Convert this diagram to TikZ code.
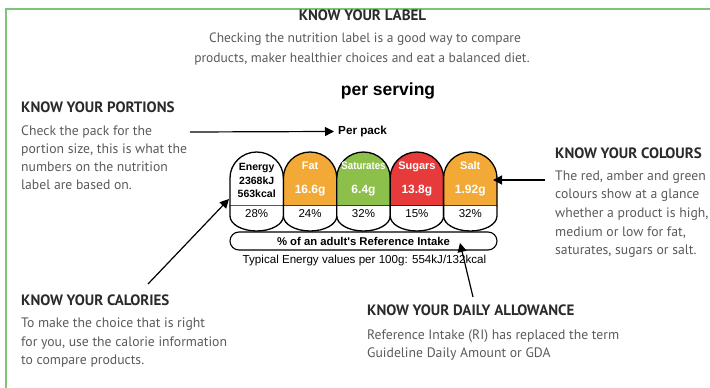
\documentclass[tikz,border=0pt]{standalone}
\usepackage{fontspec}
\setmainfont{PT Sans}
\newfontfamily\arialf{Liberation Sans}
\usetikzlibrary{arrows.meta}
\definecolor{framegreen}{HTML}{7CC576}
\definecolor{bodygrey}{HTML}{5A5A5A}
\definecolor{headgrey}{HTML}{2A2A2A}
\definecolor{amber}{HTML}{F3A935}
\definecolor{lgreen}{HTML}{8CC04A}
\definecolor{lred}{HTML}{E63A3B}
\begin{document}
\begin{tikzpicture}[x=1pt,y=-1pt,
  headtxt/.style={anchor=mid west, inner sep=0pt, text=headgrey, font=\fontsize{15}{17}\selectfont\bfseries},
  bodytxt/.style={anchor=mid west, inner sep=0pt, text=bodygrey, font=\fontsize{13.7}{15}\selectfont},
  ctrtxt/.style={anchor=mid, inner sep=0pt, text=bodygrey, font=\fontsize{13.5}{15}\selectfont},
  labtxt/.style={anchor=mid, inner sep=0pt, font=\arialf\bfseries\fontsize{11}{12}\selectfont},
  entxt/.style={anchor=mid, inner sep=0pt, font=\arialf\bfseries\fontsize{10.5}{12}\selectfont},
  valtxt/.style={anchor=mid, inner sep=0pt, text=white, font=\arialf\bfseries\fontsize{12}{13}\selectfont},
  pcttxt/.style={anchor=mid, inner sep=0pt, font=\arialf\fontsize{11.5}{12}\selectfont},
  pillline/.style={line width=1.3pt, draw=black},
  arr/.style={line width=1.2pt, -{Triangle[length=9pt,width=9pt]}}
]
\useasboundingbox (0,0) rectangle (710,388);
% frame
\draw[framegreen, line width=2pt] (6,388) -- (6,9) -- (710,9);

% top
\node[headtxt, anchor=mid] (klabel) at (362.5,18) {KNOW YOUR LABEL};
\node[ctrtxt] (t1) at (365,40) {Checking the nutrition label is a good way to compare};
\node[ctrtxt] (t2) at (362,60) {products, maker healthier choices and eat a balanced diet.};
\node[anchor=mid, inner sep=0pt, font=\arialf\bfseries\fontsize{17.5}{19}\selectfont] (perserv) at (388,93) {per serving};

% portions
\node[headtxt] (hp) at (21,110) {KNOW YOUR PORTIONS};
\node[bodytxt] (p1) at (21,133) {Check the pack for the};
\node[bodytxt] (p2) at (21,151) {portion size, this is what the};
\node[bodytxt] (p3) at (21,169) {numbers on the nutrition};
\node[bodytxt] (p4) at (21,187) {label are based on.};

\node[anchor=mid west, inner sep=0pt, font=\arialf\bfseries\fontsize{11.7}{13}\selectfont] (perpack) at (338,132) {Per pack};
\coordinate (pa) at (190,132);
\draw[arr, shorten >=4pt] (pa) -- (perpack.west);

% colours
\node[headtxt] (hc) at (555,156) {KNOW YOUR COLOURS};
\node[bodytxt] (c1) at (555,177.5) {The red, amber and green};
\node[bodytxt] (c2) at (555,196) {colours show at a glance};
\node[bodytxt] (c3) at (555,215) {whether a product is high,};
\node[bodytxt] (c4) at (555,233.5) {medium or low for fat,};
\node[bodytxt] (c5) at (555,252) {saturates, sugars or salt.};

% calories
\node[headtxt] (hk) at (21,303) {KNOW YOUR CALORIES};
\node[bodytxt] (k1) at (21,325) {To make the choice that is right};
\node[bodytxt] (k2) at (21,343.5) {for you, use the calorie information};
\node[bodytxt] (k3) at (21,362) {to compare products.};

% daily allowance
\node[headtxt] (hd) at (367,313) {KNOW YOUR DAILY ALLOWANCE};
\node[bodytxt] (d1) at (367,337) {Reference Intake (RI) has replaced the term};
\node[bodytxt] (d2) at (367,354.5) {Guideline Daily Amount or GDA};

% pills
\foreach \i/\col in {0/white,1/amber,2/lgreen,3/lred,4/amber}{
  \pgfmathsetmacro{\xl}{230+53.4*\i}
  \pgfmathsetmacro{\xr}{\xl+53.4}
  \filldraw[pillline, fill=\col] (\xl,206) -- (\xl,178) arc[start angle=180,end angle=360,x radius=26.7,y radius=26] -- (\xr,206) -- cycle;
  \filldraw[pillline, fill=white] (\xl,206) -- (\xl,216) arc[start angle=180,end angle=0,x radius=26.7,y radius=15] -- (\xr,206);
}
\node[entxt] (en1) at (256.7,168) {Energy};
\node[entxt] (en2) at (256.7,182) {2368kJ};
\node[entxt] (en3) at (256.7,195) {563kcal};
\foreach \i/\lab/\val/\sx in {1/Fat/16.6g/1,2/Saturates/6.4g/0.88,3/Sugars/13.8g/1,4/Salt/1.92g/1}{
  \pgfmathsetmacro{\cx}{256.7+53.4*\i}
  \node[labtxt, text=white, xscale=\sx] (lab\i) at (\cx,167) {\lab};
  \node[valtxt] (val\i) at (\cx,191) {\val};
}
\foreach \i/\pc in {0/28,1/24,2/32,3/15,4/32}{
  \pgfmathsetmacro{\cx}{256.7+53.4*\i}
  \node[pcttxt] (pc\i) at (\cx,214.5) {\pc\%};
}
\node[draw, line width=1.1pt, rounded corners=9pt, minimum width=267pt, minimum height=18pt, inner sep=0pt,
      font=\arialf\bfseries\fontsize{11.3}{12}\selectfont] (ri) at (363.5,241) {\% of an adult's Reference Intake};
\node[pcttxt, font=\arialf\fontsize{11.6}{13}\selectfont] (typ) at (364.5,261) {Typical Energy values per 100g: 554kJ/132kcal};

% arrows
\coordinate (calS) at (148,284);
\coordinate (calT) at (229,199);
\draw[arr] (calS) -- (calT);
\coordinate (colS) at (545,180);
\coordinate (colT) at (493,180);
\draw[arr] (colS) -- (colT);
\coordinate (dayS) at (473,297);
\coordinate (dayT) at (460,243);
\draw[arr] (dayS) -- (dayT);
\end{tikzpicture}
\end{document}
